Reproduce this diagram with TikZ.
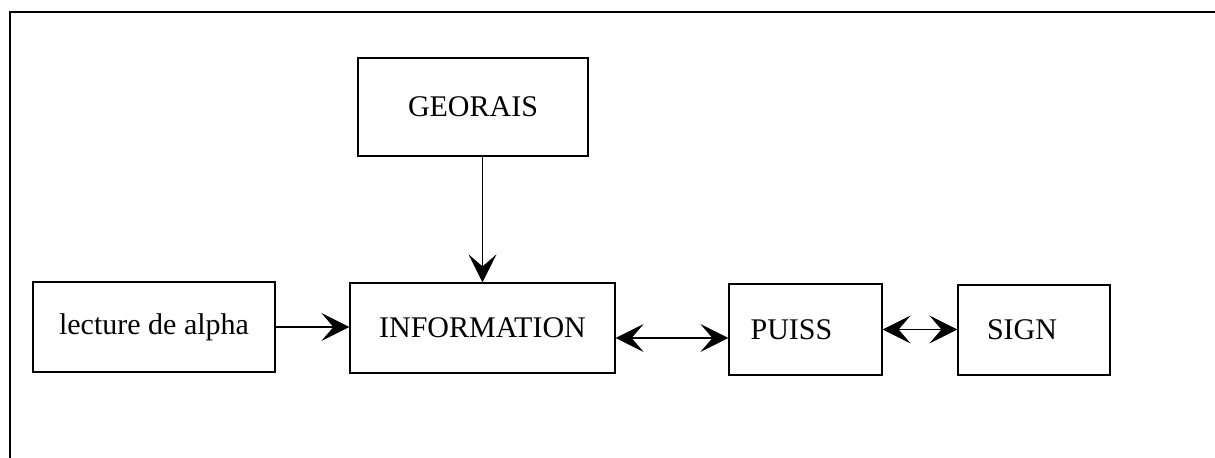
\documentclass[tikz,border=0pt]{standalone}
\usepackage{fontspec}
\setmainfont{Liberation Serif}
\usetikzlibrary{arrows.meta}

\begin{document}
\begin{tikzpicture}[x=0.5pt, y=-0.5pt, line width=0.6pt,
  box/.style={draw, inner sep=0pt, font=\fontsize{15pt}{17pt}\selectfont},
  tip/.style={-{Stealth[length=14pt, width=14pt, inset=6pt]}},
  tips/.style={{Stealth[length=14pt, width=14pt, inset=6pt]}-{Stealth[length=14pt, width=14pt, inset=6pt]}}]
\useasboundingbox (0,0) rectangle (1215,458);
% frame
\draw (10,458) -- (10,12) -- (1215,12);
% boxes
\node[box, minimum width=115pt, minimum height=49pt] (georais) at (473,107) {GEORAIS};
\node[box, minimum width=121pt, minimum height=45pt] (lecture) at (154,327) {lecture de alpha};
\node[box, minimum width=132.5pt, minimum height=45pt] (info) at (482.5,328) {INFORMATION};
\node[box, minimum width=76.5pt, minimum height=45.5pt] (puiss) at (805.5,329.5) {\hspace{-14pt}PUISS};
\node[box, minimum width=76pt, minimum height=45pt] (sign) at (1034,330) {\hspace{-12pt}SIGN};
% arrows
\draw[tip] (info.north |- georais.south) -- (info.north);
\draw[tip] (lecture.east) -- (lecture.east -| info.west);
\draw[tips] ([yshift=-5pt]info.east) -- ([yshift=-5pt]info.east -| puiss.west);
\draw[tips] (puiss.east) -- (puiss.east -| sign.west);
\end{tikzpicture}
\end{document}
